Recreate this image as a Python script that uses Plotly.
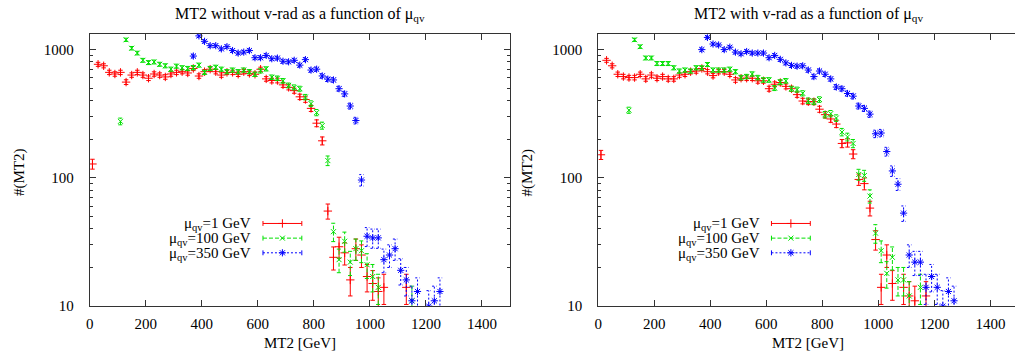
import plotly.graph_objects as go

FONT = "'Liberation Serif', 'DejaVu Serif', serif"
W, H = 1015, 363

# MT2 bin centres (GeV), 20 GeV wide bins
mt2_bins = [10, 30, 50, 70, 90, 110, 130, 150, 170, 190,
            210, 230, 250, 270, 290, 310, 330, 350, 370, 390,
            410, 430, 450, 470, 490, 510, 530, 550, 570, 590,
            610, 630, 650, 670, 690, 710, 730, 750, 770, 790,
            810, 830, 850, 870, 890, 910, 930, 950, 970, 990,
            1010, 1030, 1050, 1070, 1090, 1110, 1130, 1150, 1170, 1190,
            1210, 1230, 1250, 1270]

N = None

# ---- MT2 without v-rad ----
red_wo = [128, 765, 745, 662, 643, 662, 556, 631, 662, 631,
          596, 643, 631, 610, 643, 662, 670, 655, 710, 620,
          670, 701, 670, 631, 662, 662, 640, 670, 650, 640,
          700, 589, 572, 572, 529, 506, 477, 427, 407, 347,
          266, 194, 55, 24, 29, 26, 16, 28, 25, 17,
          15, 13, 14, N, N, N, 14, N, N, N,
          N, N, N, N]
red_wo_err = [11.3, 27.7, 27.3, 25.7, 25.4, 25.7, 23.6, 25.1, 25.7, 25.1,
              24.4, 25.4, 25.1, 24.7, 25.4, 25.7, 25.9, 25.6, 26.6, 24.9,
              25.9, 26.5, 25.9, 25.1, 25.7, 25.7, 25.3, 25.9, 25.5, 25.3,
              26.5, 24.3, 23.9, 23.9, 23.0, 22.5, 21.8, 20.7, 20.2, 18.6,
              16.3, 13.9, 7.4, 4.9, 5.4, 5.1, 4.0, 5.3, 5.0, 4.1,
              3.9, 3.6, 3.7, N, N, N, 3.7, N, N, N,
              N, N, N, N]

green_wo = [N, N, N, N, N, 275, 1188, 1021, 936, 822,
            789, 798, 766, 745, 701, 740, 719, 710, 721, 754,
            662, 710, 726, 701, 670, 690, 670, 690, 670, 640,
            680, 705, 607, 596, 569, 524, 506, 494, 425, 378,
            322, 255, 136, 38, 23, 32, 22, 28, 27, 21,
            17, 14, N, N, N, N, N, 11, N, N,
            N, N, N, N]
green_wo_err = [N, N, N, N, N, 16.6, 34.5, 32.0, 30.6, 28.7,
                28.1, 28.2, 27.7, 27.3, 26.5, 27.2, 26.8, 26.6, 26.9, 27.5,
                25.7, 26.6, 26.9, 26.5, 25.9, 26.3, 25.9, 26.3, 25.9, 25.3,
                26.1, 26.6, 24.6, 24.4, 23.9, 22.9, 22.5, 22.2, 20.6, 19.4,
                17.9, 16.0, 11.7, 6.2, 4.8, 5.7, 4.7, 5.3, 5.2, 4.6,
                4.1, 3.7, N, N, N, N, N, 3.3, N, N,
                N, N, N, N]

blue_wo = [N, N, N, N, N, N, N, N, N, N,
           N, N, N, N, N, N, N, N, 887, 1274,
           1155, 1069, 1069, 1009, 1050, 979, 936, 952, 979, 861,
           861, 897, 846, 855, 808, 800, 822, 754, 832, 690,
           701, 621, 586, 578, 494, 450, 362, 279, 96, 35,
           34, 34, 23, 25, 28, 19, 16, 11, 13, N,
           10, 11, 13, N]
blue_wo_err = [N, N, N, N, N, N, N, N, N, N,
               N, N, N, N, N, N, N, N, 29.8, 35.7,
               34.0, 32.7, 32.7, 31.8, 32.4, 31.3, 30.6, 30.9, 31.3, 29.3,
               29.3, 29.9, 29.1, 29.2, 28.4, 28.3, 28.7, 27.5, 28.8, 26.3,
               26.5, 24.9, 24.2, 24.0, 22.2, 21.2, 19.0, 16.7, 9.8, 5.9,
               5.8, 5.8, 4.8, 5.0, 5.3, 4.4, 4.0, 3.3, 3.6, N,
               3.2, 3.3, 3.6, N]

# ---- MT2 with v-rad ----
red_w = [151, 822, 745, 640, 614, 603, 603, 640, 589, 631,
         596, 614, 589, 589, 631, 640, 670, 678, 710, 670,
         625, 670, 670, 640, 578, 596, 596, 596, 569, 569,
         494, 535, 552, 515, 494, 444, 396, 391, 391, 342,
         310, 287, 262, 185, 187, 153, 97, 90, 58, 33,
         14, 25, 15, N, 14, 12, 11, N, 12, N,
         N, N, N, N]
red_w_err = [12.3, 28.7, 27.3, 25.3, 24.8, 24.6, 24.6, 25.3, 24.3, 25.1,
             24.4, 24.8, 24.3, 24.3, 25.1, 25.3, 25.9, 26.0, 26.6, 25.9,
             25.0, 25.9, 25.9, 25.3, 24.0, 24.4, 24.4, 24.4, 23.9, 23.9,
             22.2, 23.1, 23.5, 22.7, 22.2, 21.1, 19.9, 19.8, 19.8, 18.5,
             17.6, 16.9, 16.2, 13.6, 13.7, 12.4, 9.8, 9.5, 7.6, 5.7,
             3.7, 5.0, 3.9, N, 3.7, 3.5, 3.3, N, 3.5, N,
             N, N, N, N]

green_w = [N, N, N, N, N, 336, 1188, 1050, 857, 857,
           776, 776, 776, 719, 678, 690, 678, 719, 719, 762,
           690, 690, 690, 701, 670, 603, 614, 643, 603, 578,
           578, 500, 556, 569, 494, 486, 455, 398, 391, 407,
           310, 316, 292, 227, 208, 185, 106, 104, 72, 37,
           27, 18, 24, 16, 16, 12, N, 14, N, N,
           N, N, N, N]
green_w_err = [N, N, N, N, N, 18.3, 34.5, 32.4, 29.3, 29.3,
               27.9, 27.9, 27.9, 26.8, 26.0, 26.3, 26.0, 26.8, 26.8, 27.6,
               26.3, 26.3, 26.3, 26.5, 25.9, 24.6, 24.8, 25.4, 24.6, 24.0,
               24.0, 22.4, 23.6, 23.9, 22.2, 22.0, 21.3, 20.0, 19.8, 20.2,
               17.6, 17.8, 17.1, 15.1, 14.4, 13.6, 10.3, 10.2, 8.5, 6.1,
               5.2, 4.2, 4.9, 4.0, 4.0, 3.5, N, 3.7, N, N,
               N, N, N, N]

blue_w = [N, N, N, N, N, N, N, N, N, N,
          N, N, N, N, N, N, N, N, 996, 1239,
          1101, 1082, 996, 1040, 952, 924, 962, 936, 936, 936,
          861, 897, 836, 785, 750, 740, 745, 690, 614, 678,
          640, 589, 509, 494, 453, 432, 362, 347, 313, 220,
          223, 160, 113, 89, 53, 25, 22, 22, 14, 17,
          14, 10, 13, 11]
blue_w_err = [N, N, N, N, N, N, N, N, N, N,
              N, N, N, N, N, N, N, N, 31.6, 35.2,
              33.2, 32.9, 31.6, 32.2, 30.9, 30.4, 31.0, 30.6, 30.6, 30.6,
              29.3, 29.9, 28.9, 28.0, 27.4, 27.2, 27.3, 26.3, 24.8, 26.0,
              25.3, 24.3, 22.6, 22.2, 21.3, 20.8, 19.0, 18.6, 17.7, 14.8,
              14.9, 12.6, 10.6, 9.4, 7.3, 5.0, 4.7, 4.7, 3.7, 4.1,
              3.7, 3.2, 3.6, 3.3]

legend_labels = ["μ<sub>qv</sub>=1 GeV", "μ<sub>qv</sub>=100 GeV", "μ<sub>qv</sub>=350 GeV"]
x_ticks = [0, 200, 400, 600, 800, 1000, 1200, 1400]
y_ticks = [10, 100, 1000]
y_minor = [20, 30, 40, 50, 60, 70, 80, 90, 200, 300, 400, 500, 600, 700, 800, 900]

# line styles: red solid +, green dashed x, blue dotted *
STYLES = [
    dict(color="#ff0000", dash="solid", symbol="cross-thin", size=6),
    dict(color="#00e000", dash="4px,2px", symbol="x-thin", size=5),
    dict(color="#0000ff", dash="2px,2px", symbol="asterisk", size=6),
]
CAP = 8  # half width of error bar caps, GeV

# panel geometry in pixels
PX_PER_GEV = 422 / 1500
Y_TOP, Y_BOT = 35, 313
PANELS = [
    dict(x0=86, x1=508, title="MT2 without v-rad as a function of μ<sub>qv</sub>",
         series=[(red_wo, red_wo_err), (green_wo, green_wo_err), (blue_wo, blue_wo_err)]),
    dict(x0=596.5, x1=1015, title="MT2 with v-rad as a function of μ<sub>qv</sub>",
         series=[(red_w, red_w_err), (green_w, green_w_err), (blue_w, blue_w_err)]),
]
Y_LOG_TOP = 3.118


def error_path(vals, errs):
    xs, ys = [], []
    for x, v, e in zip(mt2_bins, vals, errs):
        if v is None:
            continue
        lo, hi = v - e, v + e
        xs += [x, x, None, x - CAP, x + CAP, None, x - CAP, x + CAP, None]
        ys += [lo, hi, None, lo, lo, None, hi, hi, None]
    return xs, ys


fig = go.Figure()
annotations = []
shapes = []
axis_font = dict(family=FONT, size=15, color="black")

for i, p in enumerate(PANELS):
    n = "" if i == 0 else str(i + 1)
    xa, ya = "x" + n, "y" + n
    for (vals, errs), st in zip(p["series"], STYLES):
        ex, ey = error_path(vals, errs)
        fig.add_trace(go.Scatter(
            x=ex, y=ey, xaxis=xa, yaxis=ya, mode="lines", hoverinfo="skip",
            line=dict(color=st["color"], width=1, dash=st["dash"]), showlegend=False))
        px = [x for x, v in zip(mt2_bins, vals) if v is not None]
        py = [v for v in vals if v is not None]
        fig.add_trace(go.Scatter(
            x=px, y=py, xaxis=xa, yaxis=ya, mode="markers", showlegend=False,
            marker=dict(symbol=st["symbol"], size=st["size"], color=st["color"],
                        line=dict(color=st["color"], width=1))))

    xmax = (p["x1"] - p["x0"]) / PX_PER_GEV
    fig.update_layout(**{
        "xaxis" + n: dict(
            domain=[p["x0"] / W, p["x1"] / W], range=[0, xmax], anchor=ya,
            showline=True, linecolor="#333", linewidth=1, mirror="ticks",
            ticks="inside", ticklen=6, tickcolor="#333", tickvals=x_ticks,
            tickfont=axis_font, ticklabelstandoff=4, showgrid=False, zeroline=False),
        "yaxis" + n: dict(
            domain=[(H - Y_BOT) / H, (H - Y_TOP) / H], type="log", range=[1, Y_LOG_TOP],
            anchor=xa, showline=True, linecolor="#333", linewidth=1,
            mirror="ticks" if i == 0 else False,
            ticks="inside", ticklen=6, tickcolor="#333", tickvals=y_ticks,
            ticktext=[str(t) for t in y_ticks], tickfont=axis_font, ticklabelstandoff=12,
            minor=dict(tickvals=y_minor, ticks="inside", ticklen=3, tickcolor="#333"),
            showgrid=False, zeroline=False),
    })

    cx = p["x0"] + 750 * PX_PER_GEV
    annotations.append(dict(text=p["title"], x=cx, y=15, xref="x3", yref="y3",
                            showarrow=False, xanchor="center", yanchor="middle",
                            font=dict(family=FONT, size=16, color="black")))
    annotations.append(dict(text="MT2 [GeV]", x=cx, y=351, xref="x3", yref="y3",
                            showarrow=False, xanchor="center", yanchor="middle",
                            font=axis_font))
    annotations.append(dict(text="#(MT2)", x=p["x0"] - 71, y=176, xref="x3", yref="y3",
                            showarrow=False, textangle=-90, xanchor="center",
                            yanchor="middle", font=axis_font))

    # key: label on the left, error-bar sample on the right
    tx = p["x0"] + 164
    s0, s1 = p["x0"] + 174, p["x0"] + 213
    for j, (label, st) in enumerate(zip(legend_labels, STYLES)):
        yy = 228.5 + 15 * j
        annotations.append(dict(text=label, x=tx, y=yy + 1, xref="x3", yref="y3",
                                showarrow=False, xanchor="right", yanchor="middle",
                                font=axis_font))
        ln = dict(color=st["color"], width=1, dash=st["dash"])
        shapes.append(dict(type="line", xref="x3", yref="y3", x0=s0, x1=s1, y0=yy, y1=yy, line=ln))
        for sx in (s0, s1):
            shapes.append(dict(type="line", xref="x3", yref="y3", x0=sx, x1=sx,
                               y0=yy - 2.5, y1=yy + 2.5, line=dict(color=st["color"], width=1)))
        fig.add_trace(go.Scatter(
            x=[(s0 + s1) / 2], y=[yy], xaxis="x3", yaxis="y3", mode="markers",
            showlegend=False, cliponaxis=False, hoverinfo="skip",
            marker=dict(symbol=st["symbol"], size=st["size"], color=st["color"],
                        line=dict(color=st["color"], width=1))))

fig.update_layout(
    width=W, height=H, margin=dict(l=0, r=0, t=0, b=0),
    font=dict(family=FONT),
    paper_bgcolor="white", plot_bgcolor="rgba(0,0,0,0)", showlegend=False,
    xaxis3=dict(domain=[0, 1], range=[0, W], visible=False, anchor="y3", fixedrange=True),
    yaxis3=dict(domain=[0, 1], range=[H, 0], visible=False, anchor="x3", fixedrange=True),
    annotations=annotations, shapes=shapes,
)

fig.write_html("out.html")
